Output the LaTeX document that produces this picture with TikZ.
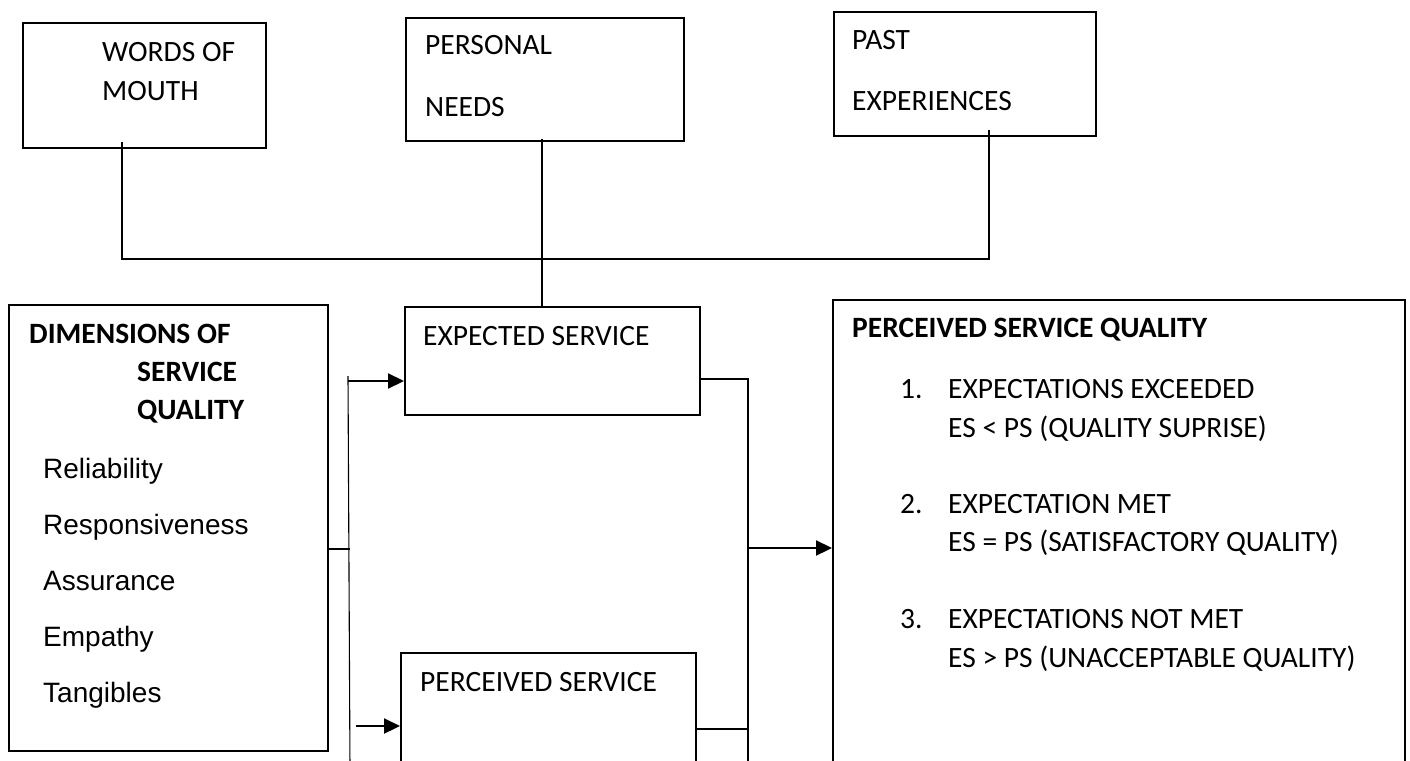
\documentclass[tikz,border=0pt]{standalone}
\usepackage{fontspec}
\setmainfont{Carlito}
\newfontfamily\arialf{Liberation Sans}
\usetikzlibrary{arrows.meta}
\begin{document}
\begin{tikzpicture}[x=1pt,y=-1pt,
  box/.style={draw, line width=1.7pt, inner sep=0, anchor=north west},
  txt/.style={inner sep=0, anchor=base west, font=\fontsize{29.5pt}{35pt}\selectfont},
  btxt/.style={txt, font=\fontsize{29.5pt}{35pt}\selectfont\bfseries},
  atxt/.style={inner sep=0, anchor=base west, font=\arialf\fontsize{28pt}{34pt}\selectfont},
  conn/.style={line width=1.1pt},
  thickconn/.style={line width=2pt},
  arr/.style={line width=2.2pt, -{Triangle[length=16pt,width=15pt]}}]
\useasboundingbox (0,0) rectangle (1410,760);
\fill[white] (0,0) rectangle (1410,760);
\clip (0,0) rectangle (1410,760);

% boxes
\node[box, minimum width=243pt, minimum height=125pt] (wom) at (22,22) {};
\node[box, minimum width=278pt, minimum height=123pt] (pn) at (405,17) {};
\node[box, minimum width=262pt, minimum height=124pt] (pe) at (833,11) {};
\node[box, minimum width=319pt, minimum height=446pt] (dim) at (8,304) {};
\node[box, minimum width=295pt, minimum height=108pt] (es) at (404,306) {};
\node[box, minimum width=295pt, minimum height=130pt] (ps) at (400,652) {};
\node[box, minimum width=572pt, minimum height=480pt] (pq) at (832,299) {};

% texts of the top boxes
\node[txt] (t1) at (102,62) {WORDS OF};
\node[txt] (t2) at (102,100) {MOUTH};
\node[txt] (t3) at (425,55) {PERSONAL};
\node[txt] (t4) at (425,116) {NEEDS};
\node[txt] (t5) at (852,49) {PAST};
\node[txt] (t6) at (852,110) {EXPERIENCES};

% dimensions box
\node[btxt] (d1) at (29,343) {DIMENSIONS OF};
\node[btxt] (d2) at (137,381) {SERVICE};
\node[btxt] (d3) at (137,419) {QUALITY};
\node[atxt] (d4) at (43,478) {Reliability};
\node[atxt] (d5) at (43,534) {Responsiveness};
\node[atxt] (d6) at (43,590) {Assurance};
\node[atxt] (d7) at (43,646) {Empathy};
\node[atxt] (d8) at (43,702) {Tangibles};

% middle boxes
\node[txt] (e1) at (423,345) {EXPECTED SERVICE};
\node[txt] (p1) at (420,691) {PERCEIVED SERVICE};

% perceived service quality
\node[btxt] (q0) at (852,337) {PERCEIVED SERVICE QUALITY};
\node[txt] (n1) at (900,398) {1.};
\node[txt] (q1) at (948,398) {EXPECTATIONS EXCEEDED};
\node[txt] (q2) at (948,437) {ES < PS (QUALITY SUPRISE)};
\node[txt] (n2) at (900,513) {2.};
\node[txt] (q3) at (948,513) {EXPECTATION MET};
\node[txt] (q4) at (948,551) {ES = PS (SATISFACTORY QUALITY)};
\node[txt] (n3) at (900,628) {3.};
\node[txt] (q5) at (948,628) {EXPECTATIONS NOT MET};
\node[txt] (q6) at (948,667) {ES > PS (UNACCEPTABLE QUALITY)};

% connectors at the top
\coordinate (wl) at (122,259);
\coordinate (pl) at (989,259);
\coordinate (pnx) at (542,0);
\draw[conn] ([yshift=7pt]wom.south -| wl) -- (wl) -- (pl) -- ([yshift=7pt]pe.south -| pl);
\draw[thickconn] ([yshift=3pt]pn.south -| pnx) -- (es.north -| pnx);

% left bus
\coordinate (lb1) at (348,376);
\coordinate (lb2) at (350,770);
\coordinate (dj) at (350,549);
\coordinate (a1) at (348,381);
\coordinate (a2) at (356,726);
\draw[conn] (dim.east |- dj) -- (dj);
\draw[conn] (lb1) -- (lb2);
\draw[arr] (a1) -- (es.west |- a1);
\draw[arr] (a2) -- (ps.west |- a2);

% right bus
\coordinate (rb) at (748,379);
\coordinate (rb2) at (748,770);
\coordinate (rp) at (748,729);
\coordinate (ra) at (748,548);
\draw[conn] (es.east |- rb) -- (rb) -- (rb2);
\draw[conn] (ps.east |- rp) -- (rp);
\draw[arr] (ra) -- (pq.west |- ra);
\end{tikzpicture}
\end{document}
